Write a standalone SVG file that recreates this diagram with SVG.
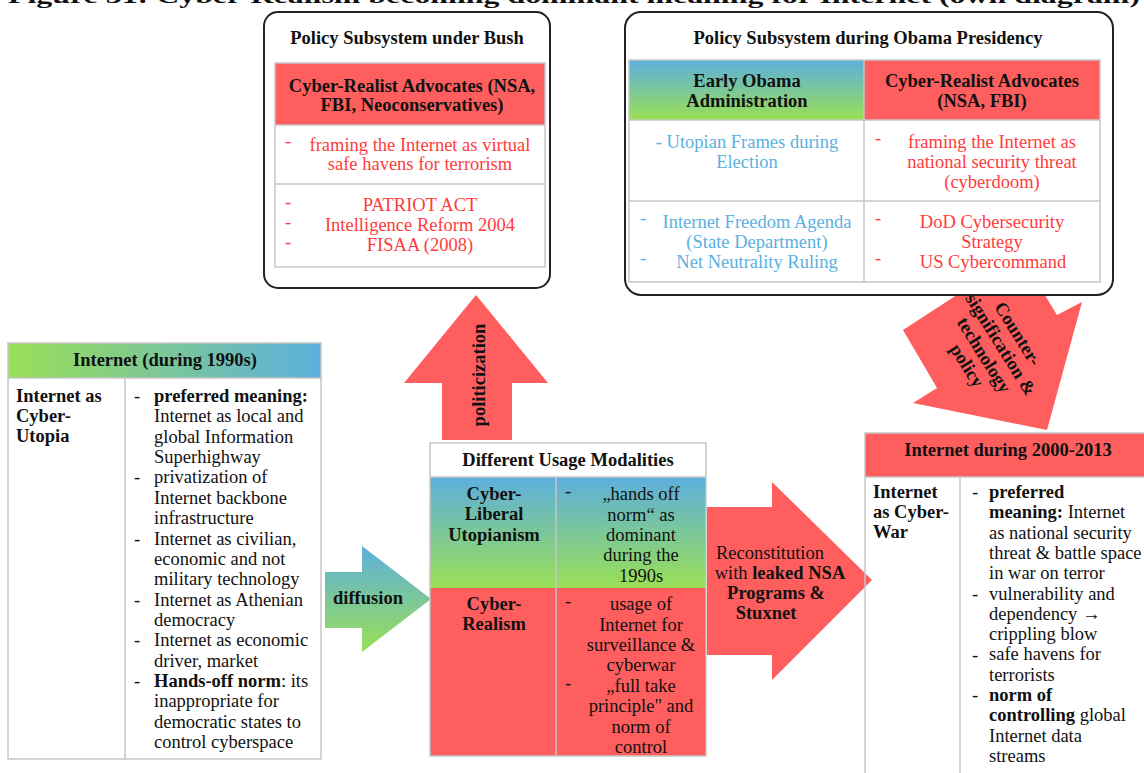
<svg xmlns="http://www.w3.org/2000/svg" width="1144" height="773" viewBox="0 0 1144 773">
<defs>
  <linearGradient id="gradV" x1="0" y1="0" x2="0" y2="1">
    <stop offset="0" stop-color="#5CAFDE"/>
    <stop offset="1" stop-color="#9ADF55"/>
  </linearGradient>
  <linearGradient id="gradH" x1="0" y1="0" x2="1" y2="0">
    <stop offset="0" stop-color="#9ADF55"/>
    <stop offset="1" stop-color="#5CAFDE"/>
  </linearGradient>
  <style>
    text{font-family:"Liberation Serif","Times New Roman",serif;font-size:18.5px;fill:#111}
    .b{font-weight:bold}
    .c{text-anchor:middle}
    .red{fill:#FF3B3B}
    .blue{fill:#5BB0E0}
    .cell{fill:none;stroke:#c6c6c6;stroke-width:1.5}
    .frame{fill:#fff;stroke:#222;stroke-width:2}
    .arrow{fill:#FF5E5E}
    .redfill{fill:#FF5E5E}
  </style>
</defs>
<rect width="1144" height="773" fill="#fff"/>

<!-- figure caption, partly cut at the top edge -->
<g id="caption">
  <text x="8" y="2.5" class="b" style="font-size:22px" textLength="1132" lengthAdjust="spacingAndGlyphs">Figure 31: Cyber-Realism becoming dominant meaning for Internet (own diagram)</text>
</g>

<!-- connectors -->
<g id="connectors">
  <!-- diffusion -->
  <polygon points="325,572 362,572 362,546 431,599 362,652 362,628 325,628" fill="url(#gradV)"/>
  <text x="368" y="604" class="b c">diffusion</text>
  <!-- politicization -->
  <polygon class="arrow" points="442,440 442,383 404,383 476,295 548,383 512,383 512,440"/>
  <text transform="translate(485,375) rotate(-90)" class="b c">politicization</text>
  <!-- reconstitution -->
  <polygon class="arrow" points="707,507 772,507 772,482 872,580 772,680 772,655 707,655"/>
  <text x="770" y="559" class="c">Reconstitution</text>
  <text x="780" y="579" class="c">with <tspan class="b">leaked NSA</tspan></text>
  <text x="776" y="599" class="b c">Programs &amp;</text>
  <text x="766" y="619" class="b c">Stuxnet</text>
  <!-- counter-signification -->
  <polygon class="arrow" points="903,330 937,388 913,403 1047,430 1082,302 1057,315 1020,254"/>
  <g transform="translate(1000,345) rotate(58)">
    <text x="0" y="-15" class="b c">Counter-</text>
    <text x="0" y="5" class="b c">signification &amp;</text>
    <text x="0" y="25" class="b c">technology</text>
    <text x="0" y="45" class="b c">policy</text>
  </g>
</g>

<!-- policy subsystem under Bush -->
<g id="bush-subsystem">
  <rect class="frame" x="264" y="12" width="286" height="276" rx="14"/>
  <text x="407" y="44" class="b c">Policy Subsystem under Bush</text>
  <rect class="redfill" x="275" y="63" width="270" height="62"/>
  <rect class="cell" x="275" y="63" width="270" height="204"/>
  <line class="cell" x1="275" y1="125" x2="545" y2="125"/>
  <line class="cell" x1="275" y1="184" x2="545" y2="184"/>
  <text x="412" y="92" class="b c">Cyber-Realist Advocates (NSA,</text>
  <text x="412" y="111" class="b c">FBI, Neoconservatives)</text>
  <text x="285" y="147" class="red">-</text>
  <text x="420" y="151" class="red c">framing the Internet as virtual</text>
  <text x="420" y="170" class="red c">safe havens for terrorism</text>
  <text x="285" y="208" class="red">-</text>
  <text x="285" y="228" class="red">-</text>
  <text x="285" y="248" class="red">-</text>
  <text x="420" y="211" class="red c">PATRIOT ACT</text>
  <text x="420" y="231" class="red c">Intelligence Reform 2004</text>
  <text x="420" y="251" class="red c">FISAA (2008)</text>
</g>

<!-- policy subsystem during Obama presidency -->
<g id="obama-subsystem">
  <rect class="frame" x="625" y="12" width="488" height="283" rx="16"/>
  <text x="868" y="44" class="b c">Policy Subsystem during Obama Presidency</text>
  <rect x="629" y="60" width="235" height="60" fill="url(#gradV)"/>
  <rect class="redfill" x="864" y="60" width="236" height="60"/>
  <rect class="cell" x="629" y="60" width="471" height="222"/>
  <line class="cell" x1="629" y1="120" x2="1100" y2="120"/>
  <line class="cell" x1="629" y1="201" x2="1100" y2="201"/>
  <line class="cell" x1="864" y1="60" x2="864" y2="282"/>
  <text x="747" y="87" class="b c">Early Obama</text>
  <text x="747" y="107" class="b c">Administration</text>
  <text x="982" y="87" class="b c">Cyber-Realist Advocates</text>
  <text x="982" y="107" class="b c">(NSA, FBI)</text>
  <text x="747" y="148" class="blue c">- Utopian Frames during</text>
  <text x="747" y="168" class="blue c">Election</text>
  <text x="875" y="144" class="red">-</text>
  <text x="992" y="148" class="red c">framing the Internet as</text>
  <text x="992" y="168" class="red c">national security threat</text>
  <text x="992" y="188" class="red c">(cyberdoom)</text>
  <text x="640" y="224" class="blue">-</text>
  <text x="640" y="264" class="blue">-</text>
  <text x="757" y="228" class="blue c">Internet Freedom Agenda</text>
  <text x="757" y="248" class="blue c">(State Department)</text>
  <text x="757" y="268" class="blue c">Net Neutrality Ruling</text>
  <text x="875" y="224" class="red">-</text>
  <text x="875" y="264" class="red">-</text>
  <text x="992" y="228" class="red c">DoD Cybersecurity</text>
  <text x="992" y="248" class="red c">Strategy</text>
  <text x="993" y="268" class="red c">US Cybercommand</text>
</g>

<!-- Internet during the 1990s -->
<g id="internet-1990s">
  <rect x="8" y="343" width="313" height="35" fill="url(#gradH)"/>
  <rect class="cell" x="8" y="343" width="313" height="416"/>
  <line class="cell" x1="8" y1="378" x2="321" y2="378"/>
  <line class="cell" x1="125" y1="378" x2="125" y2="759"/>
  <text x="165" y="366" class="b c">Internet (during 1990s)</text>
  <text x="16" y="402" class="b">Internet as</text>
  <text x="16" y="422" class="b">Cyber-</text>
  <text x="16" y="442" class="b">Utopia</text>
  <text x="134" y="402">-</text>
  <text x="134" y="483.4">-</text>
  <text x="134" y="544.5">-</text>
  <text x="134" y="605.5">-</text>
  <text x="134" y="646.2">-</text>
  <text x="134" y="687">-</text>
  <text x="154" y="402" class="b">preferred meaning:</text>
  <text x="154" y="422.4">Internet as local and</text>
  <text x="154" y="442.7">global Information</text>
  <text x="154" y="463">Superhighway</text>
  <text x="154" y="483.4">privatization of</text>
  <text x="154" y="503.8">Internet backbone</text>
  <text x="154" y="524">infrastructure</text>
  <text x="154" y="544.5">Internet as civilian,</text>
  <text x="154" y="564.8">economic and not</text>
  <text x="154" y="585">military technology</text>
  <text x="154" y="605.5">Internet as Athenian</text>
  <text x="154" y="625.9">democracy</text>
  <text x="154" y="646.2">Internet as economic</text>
  <text x="154" y="666.6">driver, market</text>
  <text x="154" y="687"><tspan class="b">Hands-off norm</tspan>: its</text>
  <text x="154" y="707.3">inappropriate for</text>
  <text x="154" y="727.6">democratic states to</text>
  <text x="154" y="748">control cyberspace</text>
</g>

<!-- different usage modalities -->
<g id="usage-modalities">
  <rect x="430" y="443" width="276" height="34" fill="#fff"/>
  <rect x="430" y="477" width="276" height="111" fill="url(#gradV)"/>
  <rect class="redfill" x="430" y="588" width="276" height="168"/>
  <rect class="cell" x="430" y="443" width="276" height="313"/>
  <line class="cell" x1="430" y1="477" x2="706" y2="477"/>
  <line class="cell" x1="556" y1="477" x2="556" y2="756"/>
  <text x="568" y="466" class="b c">Different Usage Modalities</text>
  <text x="494" y="500" class="b c">Cyber-</text>
  <text x="494" y="520" class="b c">Liberal</text>
  <text x="494" y="541" class="b c">Utopianism</text>
  <text x="565" y="497">-</text>
  <text x="641" y="500" class="c">„hands off</text>
  <text x="641" y="521" class="c">norm“ as</text>
  <text x="641" y="541" class="c">dominant</text>
  <text x="641" y="561" class="c">during the</text>
  <text x="641" y="582" class="c">1990s</text>
  <text x="494" y="610" class="b c">Cyber-</text>
  <text x="494" y="630" class="b c">Realism</text>
  <text x="565" y="607">-</text>
  <text x="641" y="610" class="c">usage of</text>
  <text x="641" y="631" class="c">Internet for</text>
  <text x="641" y="651" class="c">surveillance &amp;</text>
  <text x="641" y="671" class="c">cyberwar</text>
  <text x="565" y="689">-</text>
  <text x="641" y="692" class="c">„full take</text>
  <text x="641" y="712" class="c">principle" and</text>
  <text x="641" y="733" class="c">norm of</text>
  <text x="641" y="753" class="c">control</text>
</g>

<!-- Internet during 2000-2013 -->
<g id="internet-2000-2013">
  <rect class="redfill" x="865" y="433" width="290" height="44"/>
  <rect class="cell" x="865" y="433" width="290" height="360"/>
  <line class="cell" x1="865" y1="477" x2="1155" y2="477"/>
  <line class="cell" x1="960" y1="477" x2="960" y2="793"/>
  <text x="1008" y="456" class="b c">Internet during 2000-2013</text>
  <text x="873" y="498" class="b">Internet</text>
  <text x="873" y="518" class="b">as Cyber-</text>
  <text x="873" y="538" class="b">War</text>
  <text x="972" y="498">-</text>
  <text x="972" y="599.5">-</text>
  <text x="972" y="660.5">-</text>
  <text x="972" y="701">-</text>
  <text x="989" y="498" class="b">preferred</text>
  <text x="989" y="518.3"><tspan class="b">meaning:</tspan> Internet</text>
  <text x="989" y="538.6">as national security</text>
  <text x="989" y="558.9">threat &amp; battle space</text>
  <text x="989" y="579.2">in war on terror</text>
  <text x="989" y="599.5">vulnerability and</text>
  <text x="989" y="619.8">dependency →</text>
  <text x="989" y="640.1">crippling blow</text>
  <text x="989" y="660.4">safe havens for</text>
  <text x="989" y="680.7">terrorists</text>
  <text x="989" y="701" class="b">norm of</text>
  <text x="989" y="721.3"><tspan class="b">controlling</tspan> global</text>
  <text x="989" y="741.6">Internet data</text>
  <text x="989" y="761.9">streams</text>
</g>
</svg>
